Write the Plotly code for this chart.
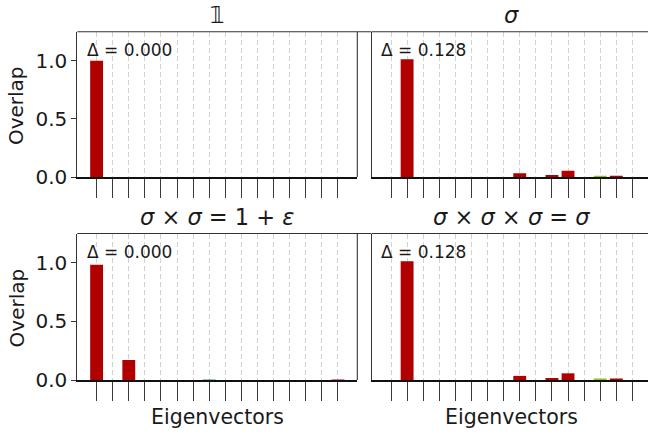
import plotly.graph_objects as go

# ---- data ----
eigen_idx = list(range(16))
titles = ["𝟙", "<i>σ</i>", "<i>σ</i> × <i>σ</i> = 1 + <i>ε</i>", "<i>σ</i> × <i>σ</i> × <i>σ</i> = <i>σ</i>"]
deltas = [0.000, 0.128, 0.000, 0.128]

ov_identity = [1.0, 0, 0, 0, 0, 0, 0, 0, 0, 0, 0, 0, 0, 0, 0, 0]
ov_sigma = [0, 1.012, 0, 0, 0, 0, 0, 0, 0.032, 0, 0.017, 0.054, 0, 0.008, 0.006, 0]
ov_sigma2 = [0.983, 0, 0.17, 0, 0, 0, 0, 0.004, 0, 0, 0, 0, 0, 0, 0, 0.004]
ov_sigma3 = [0, 1.014, 0, 0, 0, 0, 0, 0, 0.035, 0, 0.017, 0.057, 0, 0.008, 0.007, 0]

RED = "#b00000"
GREEN = "#8cc21e"
TEAL = "#2a8a8a"
col_identity = [RED] * 16
col_sigma = [RED] * 13 + [GREEN, RED, RED]
col_sigma2 = [RED] * 7 + [TEAL] + [RED] * 8
col_sigma3 = [RED] * 13 + [GREEN, RED, RED]

panels = [
    (ov_identity, col_identity),
    (ov_sigma, col_sigma),
    (ov_sigma2, col_sigma2),
    (ov_sigma3, col_sigma3),
]

W, H = 648, 439
FONT = "DejaVu Sans"
TXT = "#1a1a1a"

# axes boxes in pixels (left, right, top, bottom)
boxes = [
    (77.3, 357.3, 31.7, 177.0),
    (371.7, 648.0, 31.7, 177.0),
    (77.3, 357.3, 233.5, 380.0),
    (371.7, 648.0, 233.5, 380.0),
]
xranges = [[-1.2, 16.2], [-1.2, 15.97], [-1.2, 16.2], [-1.2, 15.97]]

fig = go.Figure()
layout = dict(
    width=W, height=H,
    margin=dict(l=0, r=0, t=0, b=0),
    paper_bgcolor="white", plot_bgcolor="white",
    showlegend=False,
    font=dict(family=FONT, color=TXT),
    bargap=0.2,
)
annotations = []
shapes = []

for i, ((vals, cols), (l, r, t, b)) in enumerate(zip(panels, boxes)):
    n = i + 1
    xa = "x" if n == 1 else f"x{n}"
    ya = "y" if n == 1 else f"y{n}"
    fig.add_trace(go.Bar(
        x=eigen_idx, y=vals, width=0.8,
        marker=dict(color=cols, line=dict(width=0)),
        xaxis=xa, yaxis=ya,
    ))
    xkey = "xaxis" if n == 1 else f"xaxis{n}"
    ykey = "yaxis" if n == 1 else f"yaxis{n}"
    left_col = (i % 2 == 0)
    layout[xkey] = dict(
        domain=[l / W, min(r / W, 1.0)],
        anchor=ya, range=xranges[i],
        tickvals=eigen_idx, showticklabels=False,
        ticks="outside", ticklen=19, tickwidth=1.3, tickcolor="#3a3a3a",
        showgrid=True, gridcolor="#d2d2d2", griddash="5px,3px", gridwidth=1,
        showline=True, linecolor="#111111", linewidth=1.6,
        zeroline=False, automargin=False, fixedrange=True,
    )
    layout[ykey] = dict(
        domain=[1 - b / H, 1 - t / H],
        anchor=xa, range=[0, 1.25],
        tickvals=[0, 0.5, 1.0] if left_col else [],
        ticktext=["0.0", "0.5", "1.0"] if left_col else [],
        showticklabels=left_col,
        ticks="outside" if left_col else "", ticklen=5, tickwidth=1.2, tickcolor="#333333",
        tickfont=dict(size=20, family=FONT, color=TXT),
        showgrid=False, zeroline=False,
        showline=True, linecolor="#333333", linewidth=1.1,
        automargin=False, fixedrange=True,
    )
    # top spine (and right spine for left panels)
    shapes.append(dict(type="line", xref=f"{xa} domain", yref=f"{ya} domain",
                       x0=0, x1=1.05, y0=1, y1=1,
                       line=dict(color="#333333", width=1.1)))
    if left_col:
        shapes.append(dict(type="line", xref=f"{xa} domain", yref=f"{ya} domain",
                           x0=1, x1=1, y0=0, y1=1,
                           line=dict(color="#333333", width=1.1)))
    # title
    annotations.append(dict(
        text=titles[i], xref="paper", yref="paper",
        x=((l + (l + 280.0)) / 2) / W, y=1 - (t - 16.5) / H,
        xanchor="center", yanchor="middle", showarrow=False,
        font=dict(size=22.5, family=FONT, color=TXT),
    ))
    # delta annotation
    annotations.append(dict(
        text=f"Δ = {deltas[i]:.3f}", xref=xa, yref=ya,
        x=-0.72, y=1.09, xanchor="left", yanchor="middle", showarrow=False,
        font=dict(size=17, family=FONT, color=TXT),
    ))
    # y label
    if left_col:
        annotations.append(dict(
            text="Overlap", xref="paper", yref="paper",
            x=16.7 / W, y=1 - ((t + b) / 2 + 1) / H,
            xanchor="center", yanchor="middle", showarrow=False, textangle=-90,
            font=dict(size=20, family=FONT, color=TXT),
        ))
    # x label (bottom row)
    if i >= 2:
        annotations.append(dict(
            text="Eigenvectors", xref="paper", yref="paper",
            x=((l + (l + 280.0)) / 2) / W, y=1 - 417 / H,
            xanchor="center", yanchor="middle", showarrow=False,
            font=dict(size=20.5, family=FONT, color=TXT),
        ))

layout["annotations"] = annotations
layout["shapes"] = shapes
fig.update_layout(**layout)
fig.write_html("out.html", config={"displayModeBar": False})
